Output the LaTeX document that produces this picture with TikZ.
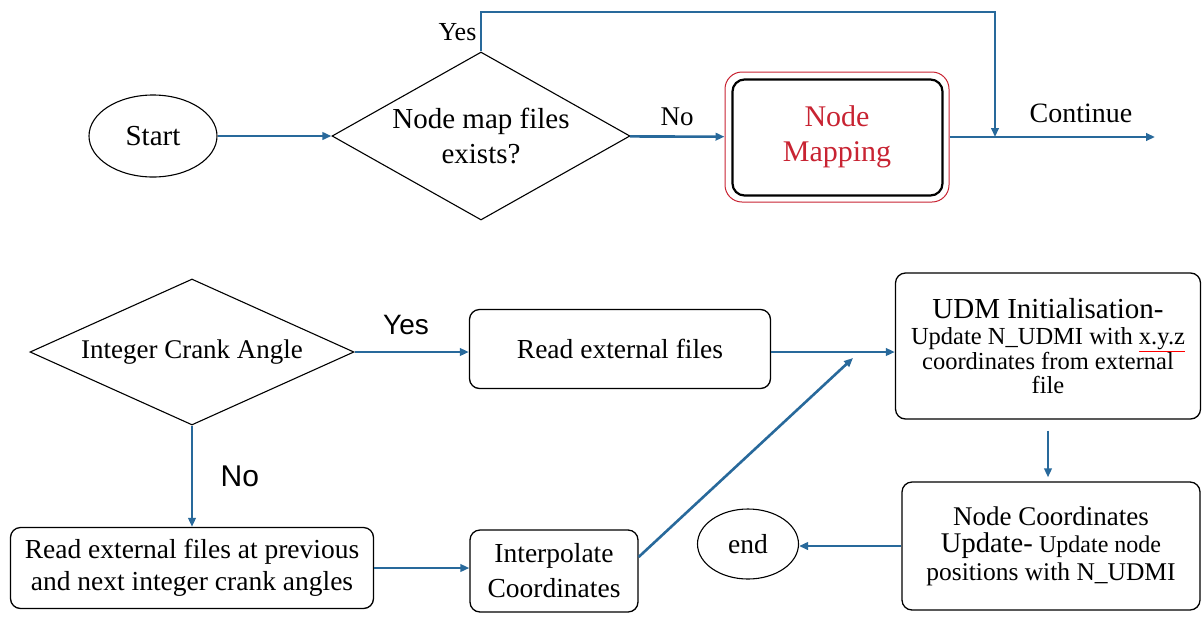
\documentclass[tikz,border=0pt]{standalone}
\usepackage{fontspec}
\setmainfont{Liberation Serif}
\setsansfont{Liberation Sans}
\usetikzlibrary{shapes.geometric,arrows.meta}
\definecolor{flowblue}{RGB}{40,105,155}
\definecolor{mapred}{RGB}{200,35,50}
\newcommand{\fsz}[2]{\rmfamily\fontsize{#1}{#2}\selectfont}
\begin{document}
\begin{tikzpicture}[x=1pt,y=-1pt,
    every node/.style={font=\fsz{27.5}{32}},
    box/.style={draw, rounded corners=10pt, line width=1.3pt, align=center, inner sep=0pt},
    decision/.style={draw, diamond, line width=1.1pt, inner sep=0pt, align=center},
    terminal/.style={draw, ellipse, line width=1.1pt, inner sep=0pt},
    flow/.style={draw=flowblue, line width=2.6pt, -{Triangle[length=9pt,width=7.5pt]}},
    sanslbl/.style={font=\sffamily\fontsize{28}{28}\selectfont}]
        \useasboundingbox (0,0) rectangle (1204,622);

        \node[terminal, minimum width=128pt, minimum height=82pt, font=\fsz{29}{29}] (start) at (153,136) {Start};
        \node[decision, shape aspect=1.77, minimum width=298pt, minimum height=168pt, font=\fsz{29}{35}] (mapq) at (481,136) {Node map files\\exists?};
        \node[box, draw=mapred, rounded corners=17pt, line width=1pt, text=mapred, minimum width=224pt, minimum height=130pt, font=\fsz{30}{35}] (map) at (837,137) {Node\\Mapping};
        \draw[line width=2.2pt, rounded corners=12pt] ([xshift=8pt,yshift=-8pt]map.north west) rectangle ([xshift=-7pt,yshift=7pt]map.south east);
        \coordinate (top) at (995,12);
        \coordinate (join) at (995,137);
        \coordinate (cont) at (1155,137);

        \path (start) edge[flow] (mapq);
        \path (mapq) edge[flow] node[above, font=\fsz{27}{27}, yshift=6pt] {No} (map);
        \draw[flow] (mapq.north) |- node[pos=0.25, left, font=\fsz{26}{26}] {Yes} (top) -- (join);
        \path (map) edge[flow] node[above, pos=0.64, font=\fsz{28}{28}, yshift=10pt] {Continue} (cont);

        \node[decision, shape aspect=2.22, minimum width=324pt, minimum height=146pt, font=\fsz{27}{27}] (angq) at (192,352) {Integer Crank Angle};
        \node[box, minimum width=301pt, minimum height=79pt] (readext) at (620,349) {Read external files};
        \node[box, minimum width=305pt, minimum height=146pt, font=\fsz{24.5}{23.5}] (udm) at (1048,346)
            {{\fsz{29}{29}UDM Initialisation-}\\[2pt]Update N\_UDMI with {\color{red}\underline{\color{black}x.y.z}}\\coordinates from external\\file};
        \node[box, minimum width=298pt, minimum height=128pt, font=\fsz{25.5}{27.5}] (nodeco) at (1051,546)
            {{\fsz{27}{27}Node Coordinates}\\{\fsz{28.5}{28.5}Update-} {\fsz{24}{24}Update node}\\positions with N\_UDMI};
        \node[terminal, minimum width=101pt, minimum height=70pt] (finish) at (748,544) {end};
        \node[box, minimum width=363pt, minimum height=81pt] (readprev) at (192,568) {Read external files at previous\\and next integer crank angles};
        \node[box, minimum width=168pt, minimum height=82pt, font=\fsz{27.5}{35}] (interp) at (554,571) {Interpolate\\Coordinates};
        \coordinate (diagtip) at (853,358);

        \path (angq.east) edge[flow] node[above, pos=0.45, sanslbl, yshift=13pt] {Yes} (angq.east -| readext.west);
        \path (angq.east -| readext.east) edge[flow] (angq.east -| udm.west);
        \path (angq) edge[flow] node[right, sanslbl, font=\sffamily\fontsize{30}{30}\selectfont, xshift=24pt] {No} (readprev);
        \path (readprev.east) edge[flow] (readprev.east -| interp.west);
        \path ([yshift=14pt]interp.east) edge[flow] (diagtip);
        \path (udm.south) edge[flow, shorten <=11pt, shorten >=4pt] (udm.south |- nodeco.north);
        \path (nodeco.west) edge[flow] (nodeco.west -| finish.east);
      \end{tikzpicture}
\end{document}
